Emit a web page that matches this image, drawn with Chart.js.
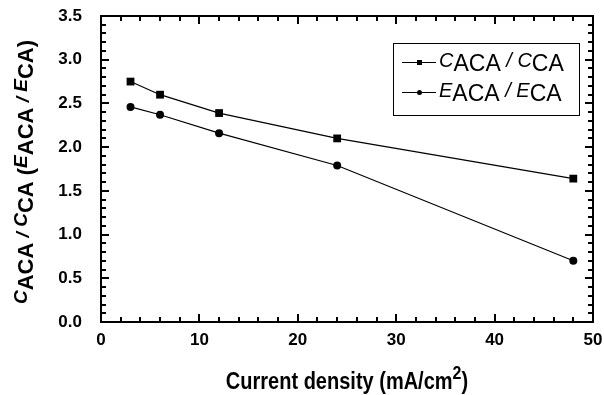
<!DOCTYPE html>
<html>
<head>
<meta charset="utf-8">
<script src="https://cdn.jsdelivr.net/npm/chart.js@4"></script>
<style>
  html, body { margin: 0; padding: 0; background: #fff; }
  #wrap { width: 604px; height: 395px; }
</style>
</head>
<body>
<div id="wrap"><canvas id="myChart" width="604" height="395"></canvas></div>
<script>
// data
var currentDensity = [3, 6, 12, 24, 48];
var capacityRatio = [2.75, 2.60, 2.39, 2.10, 1.64];
var energyRatio = [2.46, 2.37, 2.16, 1.79, 0.70];
var xTicks = [0, 10, 20, 30, 40, 50];
var yTicks = [0.0, 0.5, 1.0, 1.5, 2.0, 2.5, 3.0, 3.5];

var FONT = "'Liberation Sans', Arial, sans-serif";

function toPoints(xs, ys) {
    return xs.map(function(x, i) { return { x: x, y: ys[i] }; });
}

// draw a row of text pieces (size, style, baseline shift)
function drawPieces(ctx, pieces, x, y, align) {
    var total = 0;
    pieces.forEach(function(p) {
        ctx.font = p.f;
        p.w = ctx.measureText(p.t).width;
        total += p.w;
    });
    var cx = align === 'center' ? x - total / 2 : x;
    pieces.forEach(function(p) {
        ctx.font = p.f;
        ctx.fillText(p.t, cx, y + (p.dy || 0));
        cx += p.w;
    });
}

var boxPlugin = {
    id: 'boxPlugin',
    afterDraw: function(chart) {
        var ctx = chart.ctx, a = chart.chartArea;
        var xs = chart.scales.x, ys = chart.scales.y;
        ctx.save();
        ctx.fillStyle = '#000';
        ctx.strokeStyle = '#000';

        // inside ticks on all four sides
        var v, p, len;
        for (v = 0; v <= 50; v += 2) {
            p = Math.round(xs.getPixelForValue(v));
            len = v % 10 === 0 ? 8 : 5;
            ctx.fillRect(p - 1, a.bottom - len, 2, len);
            ctx.fillRect(p - 1, a.top, 2, len);
        }
        for (v = 0; v <= 35; v++) {
            p = Math.round(ys.getPixelForValue(v / 10));
            len = v % 5 === 0 ? 8 : 5;
            ctx.fillRect(a.left, p - 1, len, 2);
            ctx.fillRect(a.right - len, p - 1, len, 2);
        }
        ctx.lineWidth = 2;
        ctx.strokeRect(a.left, a.top, a.right - a.left, a.bottom - a.top);

        ctx.textBaseline = 'alphabetic';

        // x title
        var bx = 'bold 20px ' + FONT;
        ctx.save();
        ctx.translate((a.left + a.right) / 2, 389);
        ctx.scale(1, 1.15);
        drawPieces(ctx, [
            { t: 'Current density (mA/cm', f: bx },
            { t: '2', f: 'bold 16px ' + FONT, dy: -9 },
            { t: ')', f: bx }
        ], 0, 0, 'center');
        ctx.restore();

        // y title
        var big = 'bold 22px ' + FONT;
        var sm = 'italic bold 19px ' + FONT;
        ctx.save();
        ctx.translate(33, (a.top + a.bottom) / 2 + 3);
        ctx.rotate(-Math.PI / 2);
        drawPieces(ctx, [
            { t: 'C', f: sm, dy: -6 }, { t: 'ACA', f: big },
            { t: ' / ', f: sm, dy: -4 },
            { t: 'C', f: sm, dy: -6 }, { t: 'CA', f: big },
            { t: ' (', f: big },
            { t: 'E', f: sm, dy: -6 }, { t: 'ACA', f: big },
            { t: ' / ', f: sm, dy: -4 },
            { t: 'E', f: sm, dy: -6 }, { t: 'CA', f: big },
            { t: ')', f: big }
        ], 0, 0, 'center');
        ctx.restore();

        // legend
        var lx = 393, ly = 43, lw = 186, lh = 72;
        ctx.lineWidth = 1;
        ctx.strokeRect(lx + 0.5, ly + 0.5, lw, lh);
        var rows = [
            { y: 62, style: 'rect', s: 'C' },
            { y: 92, style: 'circle', s: 'E' }
        ];
        var lbig = '23px ' + FONT, lsm = 'italic 20px ' + FONT;
        rows.forEach(function(r) {
            ctx.fillRect(402, r.y, 34, 1);
            if (r.style === 'rect') {
                ctx.fillRect(417, r.y - 2, 5, 5);
            } else {
                ctx.beginPath();
                ctx.arc(419.5, r.y + 0.5, 2.5, 0, Math.PI * 2);
                ctx.fill();
            }
            drawPieces(ctx, [
                { t: r.s, f: lsm, dy: -4 }, { t: 'ACA', f: lbig },
                { t: ' / ', f: lsm, dy: -4 },
                { t: r.s, f: lsm, dy: -4 }, { t: 'CA', f: lbig }
            ], 439, r.y + 9, 'left');
        });
        ctx.restore();
    }
};

var tickFont = { family: FONT, size: 17, weight: 'bold' };

var ctx = document.getElementById('myChart').getContext('2d');
var myChart = new Chart(ctx, {
    type: 'scatter',
    data: {
        datasets: [{
            label: 'C_ACA / C_CA',
            data: toPoints(currentDensity, capacityRatio),
            showLine: true,
            borderColor: '#000',
            backgroundColor: '#000',
            borderWidth: 1.2,
            pointStyle: 'rect',
            pointRadius: 5.5,
            pointBorderWidth: 0
        }, {
            label: 'E_ACA / E_CA',
            data: toPoints(currentDensity, energyRatio),
            showLine: true,
            borderColor: '#000',
            backgroundColor: '#000',
            borderWidth: 1.2,
            pointStyle: 'circle',
            pointRadius: 4,
            pointBorderWidth: 0
        }]
    },
    options: {
        responsive: false,
        animation: false,
        layout: { padding: { left: 0, top: 16, right: 11, bottom: 0 } },
        plugins: { legend: { display: false }, tooltip: { enabled: false } },
        scales: {
            x: {
                type: 'linear',
                min: 0, max: 50,
                afterBuildTicks: function(s) { s.ticks = xTicks.map(function(v) { return { value: v }; }); },
                afterFit: function(s) { s.height = 73; s.paddingLeft = 0; s.paddingRight = 0; },
                grid: { display: false, drawTicks: false },
                border: { display: false },
                ticks: { font: tickFont, color: '#000', padding: 8, maxRotation: 0 }
            },
            y: {
                type: 'linear',
                min: 0, max: 3.5,
                afterBuildTicks: function(s) { s.ticks = yTicks.map(function(v) { return { value: v }; }); },
                afterFit: function(s) { s.width = 101; s.paddingTop = 0; s.paddingBottom = 0; },
                grid: { display: false, drawTicks: false },
                border: { display: false },
                ticks: {
                    font: tickFont, color: '#000', padding: 19,
                    callback: function(v) { return Number(v).toFixed(1); }
                }
            }
        }
    },
    plugins: [boxPlugin]
});
</script>
</body>
</html>
